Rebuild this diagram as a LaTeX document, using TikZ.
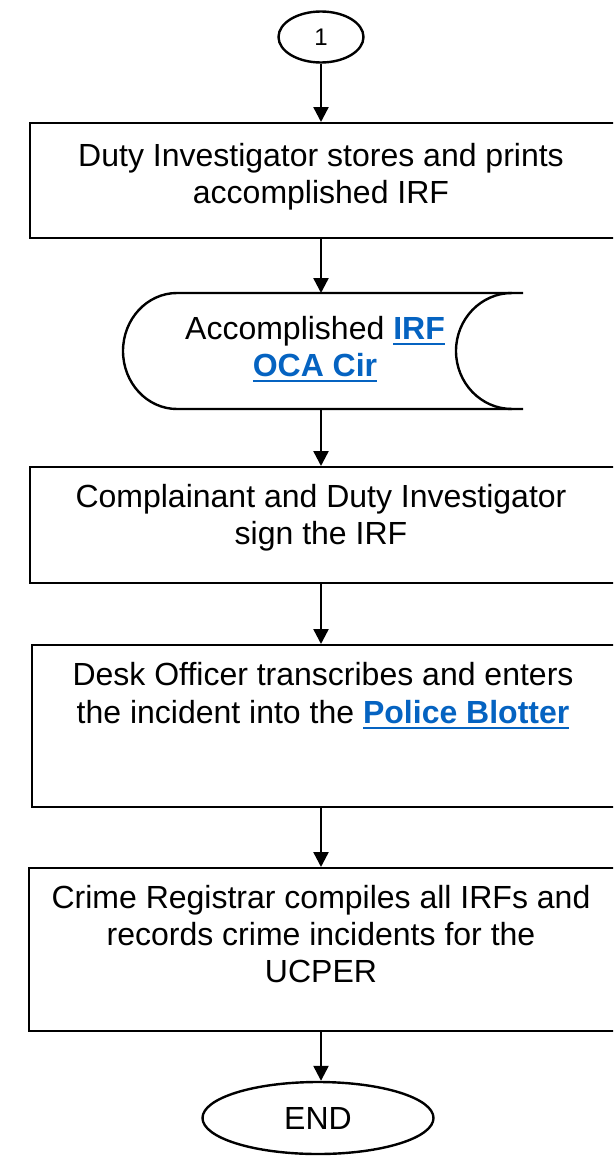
\documentclass[tikz,border=0pt]{standalone}
\usepackage{fontspec}
\setmainfont{Liberation Sans}
\usetikzlibrary{arrows.meta,shapes.geometric}
\definecolor{linkblue}{HTML}{0563C1}
\newsavebox\lnkbox
\newcommand\lnk[1]{\sbox\lnkbox{\color{linkblue}\bfseries #1}{\color{linkblue}\rlap{\rule[-6pt]{\wd\lnkbox}{2.4pt}}}\usebox\lnkbox}
\begin{document}
\begin{tikzpicture}[x=1pt,y=-1pt,line width=2.4pt,
  box/.style={draw,rectangle,minimum width=591pt,anchor=north west,inner sep=0pt},
  txt/.style={align=center,inner sep=0pt,font=\fontsize{32}{37}\selectfont},
  arr/.style={-{Triangle[width=15pt,length=15pt]}},
  ell/.style={draw,ellipse,inner sep=0pt,font=\fontsize{32}{37}\selectfont}]
\useasboundingbox (0,0) rectangle (613,1156);
\clip (0,0) rectangle (613,1156);
% start connector
\node[ell,minimum width=85pt,minimum height=51pt,font=\fontsize{24}{28}\selectfont] (c1) at (321,37) {1};
% box 1
\node[box,minimum height=115pt] (b1) at (29,122) {};
\node[txt,anchor=base] (t1) at (321,203) {Duty Investigator stores and prints\\accomplished IRF};
% stored data
\node[inner sep=0pt,outer sep=0pt,minimum width=400pt,minimum height=116pt] (sd) at (323,351) {};
\draw (sd.north east) -- ++(-346,0) arc[start angle=90,end angle=270,x radius=54pt,y radius=58pt] -- (sd.south east);
\draw ([xshift=-11pt]sd.north east) arc[start angle=90,end angle=270,x radius=56pt,y radius=58pt];
\node[txt,anchor=base] (st) at (315,376) {Accomplished \lnk{IRF}\\\lnk{OCA Cir}};
% box 2
\node[box,minimum height=116pt] (b2) at (29,466) {};
\node[txt,anchor=base] (t2) at (321,544) {Complainant and Duty Investigator\\sign the IRF};
% box 3
\node[box,minimum height=162pt] (b3) at (31,644) {};
\node[txt,anchor=base,font=\fontsize{32}{38}\selectfont] (t3) at (323,723) {Desk Officer transcribes and enters\\the incident into the \lnk{Police Blotter}};
% box 4
\node[box,minimum height=163pt] (b4) at (28,867) {};
\node[txt,anchor=base,font=\fontsize{32}{37}\selectfont] (t4) at (321,982) {Crime Registrar compiles all IRFs and\\records crime incidents for the\\UCPER};
% end
\node[ell,minimum width=231pt,minimum height=72pt] (e) at (318,1118) {END};
% connectors
\draw[arr] (c1.south) -- (c1.south |- b1.north);
\draw[arr] (b1.south -| c1) -- (sd.north -| c1);
\draw[arr] (sd.south -| c1) -- (b2.north -| c1);
\draw[arr] (b2.south -| c1) -- (b3.north -| c1);
\draw[arr] (b3.south -| c1) -- (b4.north -| c1);
\draw[arr] (b4.south -| c1) -- (e.north -| c1);
\end{tikzpicture}
\end{document}
